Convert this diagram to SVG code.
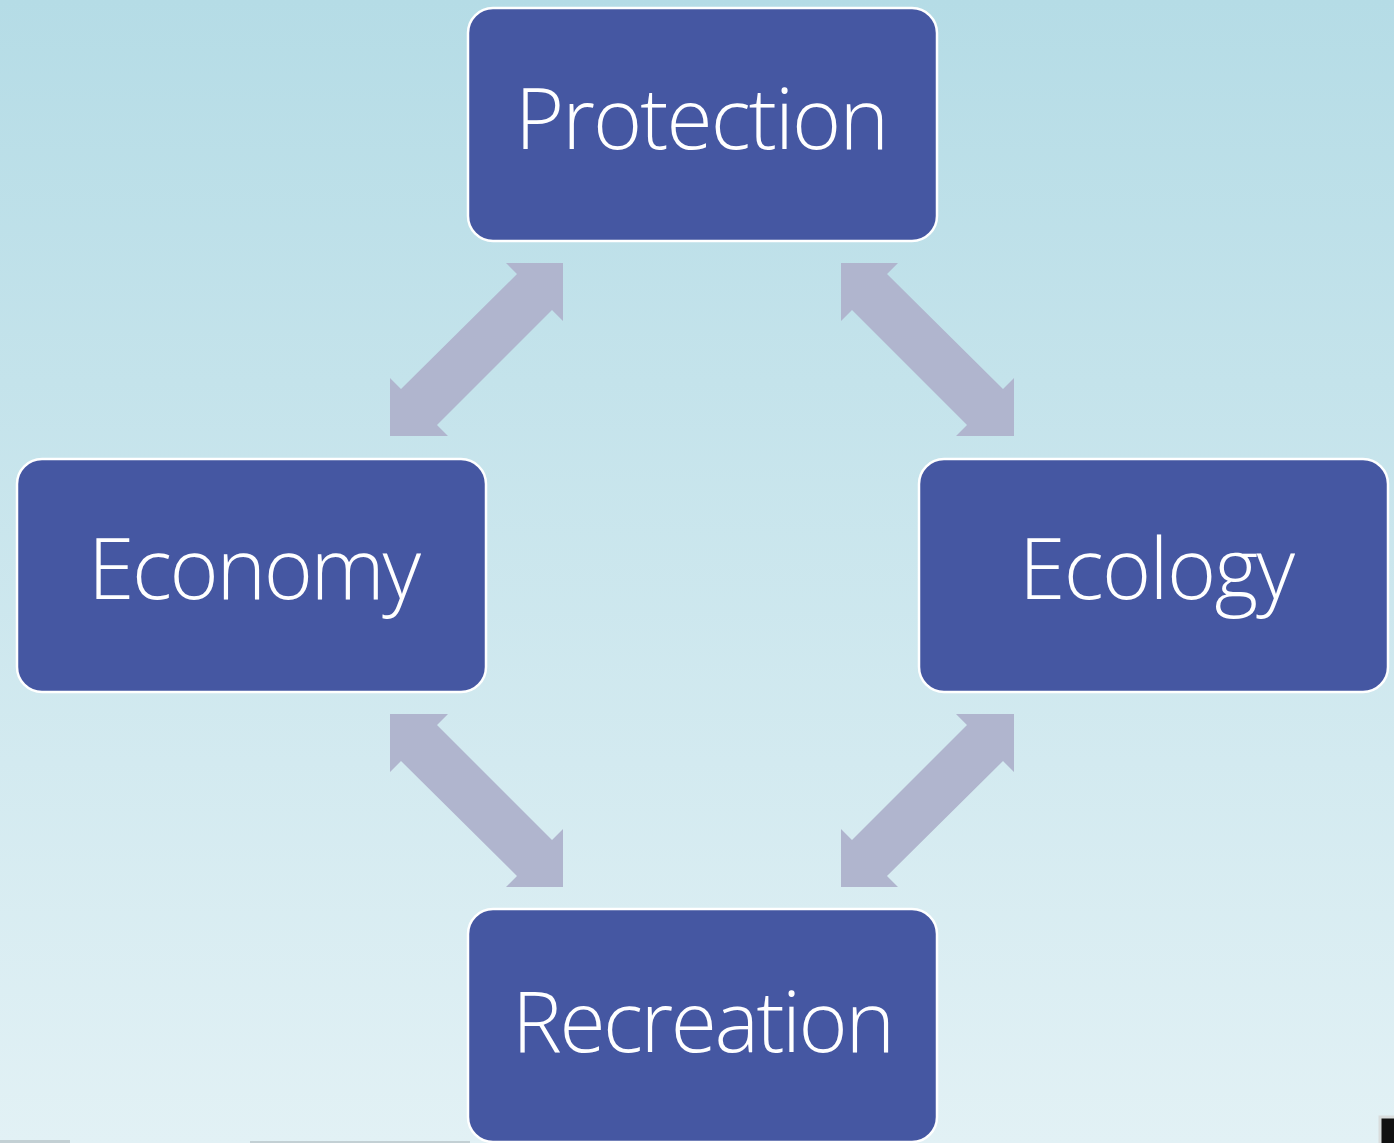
<svg xmlns="http://www.w3.org/2000/svg" width="1394" height="1143" viewBox="0 0 1394 1143">
<defs>
<linearGradient id="bg" x1="0" y1="0" x2="0" y2="1">
<stop offset="0" stop-color="#b5dce6"/>
<stop offset="1" stop-color="#e2f1f5"/>
</linearGradient>
<polygon id="arr" points="506,263 563,263 563,321 552,310 437,425 448,436 390,436 390,378 401,389 517,274"/>
</defs>
<style>
.box{fill:#4557a2;stroke:#ffffff;stroke-width:2.5}
.lbl{fill:#ffffff;font-family:"Open Sans","Liberation Sans",sans-serif;font-weight:300;font-size:84px;text-anchor:middle}
.arrow{fill:#b0b5ce}
</style>
<rect x="0" y="0" width="1394" height="1143" fill="url(#bg)"/>
<g id="connectors">
<use href="#arr" class="arrow"/>
<use href="#arr" class="arrow" transform="translate(1404,0) scale(-1,1)"/>
<use href="#arr" class="arrow" transform="translate(0,1150) scale(1,-1)"/>
<use href="#arr" class="arrow" transform="translate(1404,1150) scale(-1,-1)"/>
</g>
<g id="protection">
<rect class="box" x="468" y="8" width="469" height="233" rx="25"/>
<text class="lbl" x="702" y="149" textLength="374" lengthAdjust="spacing">Protection</text>
</g>
<g id="economy">
<rect class="box" x="17" y="459" width="469" height="233" rx="25"/>
<text class="lbl" x="254.5" y="599" textLength="333" lengthAdjust="spacing">Economy</text>
</g>
<g id="ecology">
<rect class="box" x="919" y="459" width="469" height="233" rx="25"/>
<text class="lbl" x="1157" y="599" textLength="276" lengthAdjust="spacing">Ecology</text>
</g>
<g id="recreation">
<rect class="box" x="468" y="909" width="469" height="233" rx="25"/>
<text class="lbl" x="703.5" y="1052" textLength="383" lengthAdjust="spacing">Recreation</text>
</g>
<rect x="0" y="1140" width="70" height="3" fill="#c3d0d4"/>
<rect x="250" y="1141" width="220" height="2" fill="#c3d0d4"/>
<rect x="1380" y="1117" width="16" height="28" fill="#111111" stroke="#d8dcdc" stroke-width="3"/>
</svg>
